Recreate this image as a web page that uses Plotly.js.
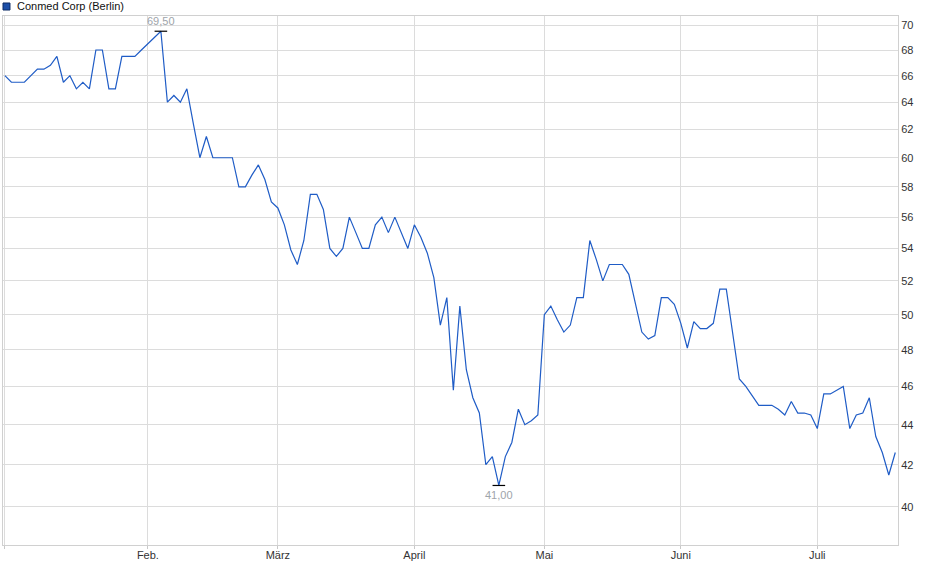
<!DOCTYPE html>
<html>
<head>
<meta charset="utf-8">
<script src="https://cdn.plot.ly/plotly-3.0.1.min.js"></script>
<style>
  html, body { margin: 0; padding: 0; background: #fff; }
  #chart { width: 940px; height: 579px; }
</style>
</head>
<body>
<div id="chart"></div>
<script>
// Conmed Corp, Börse Berlin, daily closes Jan 2 - Jul 17 2025
const FIRST_DAY = '2025-01-02';
const HOLIDAYS = ['2025-04-18', '2025-04-21', '2025-05-01'];

const pricesJan = [66.0, 65.5, 65.5, 65.5, 66.0, 66.5, 66.5, 66.8, 67.5, 65.5, 66.0,
                   65.0, 65.5, 65.0, 68.0, 68.0, 65.0, 65.0, 67.5, 67.5, 67.5, 68.0];
const pricesFeb = [68.5, 69.0, 69.5, 64.0, 64.5, 64.0, 65.0, 62.4, 60.0, 61.5,
                   60.0, 60.0, 60.0, 60.0, 58.0, 58.0, 58.8, 59.5, 58.5, 57.0];
const pricesMar = [56.6, 55.5, 53.9, 53.0, 54.5, 57.5, 57.5, 56.5, 54.0, 53.5, 54.0,
                   56.0, 55.0, 54.0, 54.0, 55.5, 56.0, 55.0, 56.0, 55.0, 54.0];
const pricesApr = [55.5, 54.7, 53.7, 52.2, 49.4, 51.0, 45.8, 50.5, 46.9, 45.4,
                   44.6, 42.0, 42.4, 41.0, 42.4, 43.1, 44.8, 44.0, 44.2, 44.5];
const pricesMay = [50.0, 50.5, 49.7, 49.0, 49.4, 51.0, 51.0, 54.5, 53.3, 52.0, 53.0,
                   53.0, 53.0, 52.4, 50.6, 49.0, 48.6, 48.8, 51.0, 51.0, 50.6];
const pricesJun = [49.5, 48.1, 49.6, 49.2, 49.2, 49.5, 51.5, 51.5, 48.9, 46.4, 46.0,
                   45.5, 45.0, 45.0, 45.0, 44.8, 44.5, 45.2, 44.6, 44.6, 44.5];
const pricesJul = [43.8, 45.6, 45.6, 45.8, 46.0, 43.8, 44.5, 44.6, 45.4, 43.4,
                   42.6, 41.5, 42.6];

const tickDates = ['2025-01-02', '2025-02-03', '2025-03-03', '2025-04-01', '2025-05-02', '2025-06-02', '2025-07-01'];
const tickLabels = ['', 'Feb.', 'März', 'April', 'Mai', 'Juni', 'Juli'];
const yTicks = [40, 42, 44, 46, 48, 50, 52, 54, 56, 58, 60, 62, 64, 66, 68, 70];

const prices = [].concat(pricesJan, pricesFeb, pricesMar, pricesApr, pricesMay, pricesJun, pricesJul);

// trading days of the Berlin exchange (weekdays minus holidays)
function tradingDays(start, n) {
    let out = [];
    let d = new Date(start + 'T00:00:00Z');
    while (out.length < n) {
        let s = d.toISOString().slice(0, 10);
        let wd = d.getUTCDay();
        if (wd !== 0 && wd !== 6 && HOLIDAYS.indexOf(s) < 0) out.push(s);
        d.setUTCDate(d.getUTCDate() + 1);
    }
    return out;
}
const dates = tradingDays(FIRST_DAY, prices.length);

// high / low markers
let iMax = 0, iMin = 0;
for (let i = 0; i < prices.length; i++) {
    if (prices[i] > prices[iMax]) iMax = i;
    if (prices[i] < prices[iMin]) iMin = i;
}
function fmt(v) { return v.toFixed(2).replace('.', ','); }

const FONT = 'Arial, "Liberation Sans", sans-serif';

let priceTrace = {
    x: dates,
    y: prices,
    type: 'scatter',
    mode: 'lines',
    line: { color: '#1f5cc6', width: 1.2 },
    hoverinfo: 'skip',
    showlegend: false
};

let extremaTrace = {
    x: [dates[iMax], dates[iMin]],
    y: [prices[iMax], prices[iMin]],
    type: 'scatter',
    mode: 'markers',
    marker: { symbol: 'line-ew', size: 9, color: '#000', line: { color: '#000', width: 1.2 } },
    hoverinfo: 'skip',
    showlegend: false
};

let layout = {
    width: 940,
    height: 579,
    margin: { l: 3, r: 42, t: 16, b: 34 },
    paper_bgcolor: '#fff',
    plot_bgcolor: '#fff',
    font: { family: FONT, size: 11, color: '#333' },
    showlegend: false,
    xaxis: {
        type: 'date',
        range: ['2025-01-01 17:00', '2025-07-17 10:00'],
        rangebreaks: [
            { bounds: ['sat', 'mon'] },
            { values: HOLIDAYS }
        ],
        tickmode: 'array',
        tickvals: tickDates,
        ticktext: tickLabels,
        ticks: 'outside',
        ticklen: 3,
        tickcolor: '#c8c8c8',
        ticklabelstandoff: -3,
        showgrid: true,
        gridcolor: '#dcdcdc',
        gridwidth: 1,
        showline: true,
        linecolor: '#d0d0d0',
        mirror: true,
        zeroline: false,
        tickfont: { family: FONT, size: 11, color: '#333' }
    },
    yaxis: {
        type: 'log',
        side: 'right',
        range: [Math.log10(38.26), Math.log10(70.74)],
        tickmode: 'array',
        tickvals: yTicks,
        ticktext: yTicks.map(String),
        ticks: '',
        showgrid: true,
        gridcolor: '#dcdcdc',
        gridwidth: 1,
        showline: true,
        linecolor: '#d0d0d0',
        mirror: true,
        zeroline: false,
        tickfont: { family: FONT, size: 11, color: '#333' }
    },
    shapes: [{
        type: 'rect',
        xref: 'paper', yref: 'paper',
        x0: 0.0, x1: 0.0078,
        y0: 1.0113, y1: 1.0246,
        fillcolor: '#1c4fa8',
        line: { color: '#0d2c66', width: 1 }
    }],
    annotations: [
        {
            xref: 'paper', yref: 'paper',
            x: 0.0134, y: 1.018,
            xanchor: 'left', yanchor: 'middle',
            text: 'Conmed Corp (Berlin)',
            showarrow: false,
            font: { family: FONT, size: 11, color: '#111' }
        },
        {
            x: dates[iMax], y: Math.log10(prices[iMax]),
            text: fmt(prices[iMax]),
            showarrow: false,
            yanchor: 'bottom', yshift: 2,
            font: { family: FONT, size: 11, color: '#9ea4aa' }
        },
        {
            x: dates[iMin], y: Math.log10(prices[iMin]),
            text: fmt(prices[iMin]),
            showarrow: false,
            yanchor: 'top', yshift: -2,
            font: { family: FONT, size: 11, color: '#9ea4aa' }
        }
    ]
};

Plotly.newPlot('chart', [priceTrace, extremaTrace], layout, { displayModeBar: false, staticPlot: true });
</script>
</body>
</html>
